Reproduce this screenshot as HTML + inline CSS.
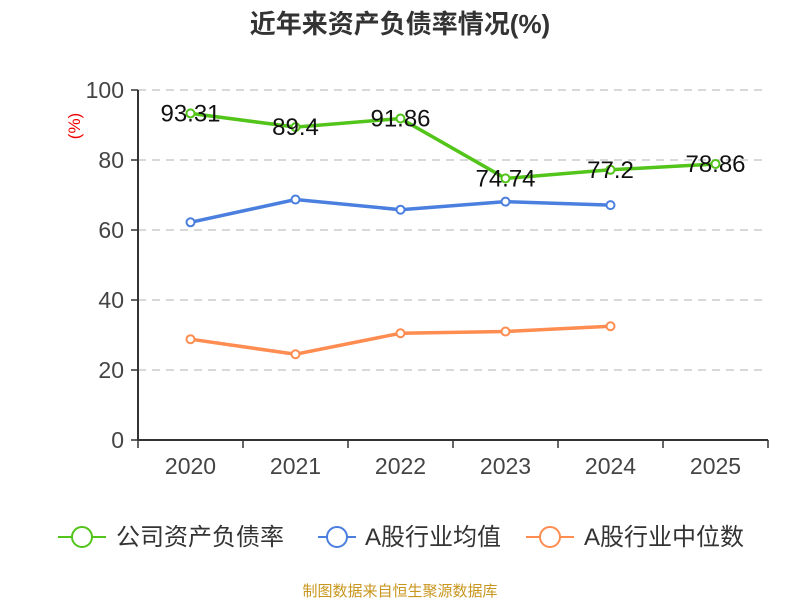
<!DOCTYPE html>
<html><head><meta charset="utf-8"><style>
body{margin:0;background:#fff;}
svg{display:block;font-family:"Liberation Sans","Noto Sans CJK SC",sans-serif;}
</style></head><body>
<svg id="c" width="800" height="600">
<text x="400" y="33" text-anchor="middle" font-size="26" font-weight="bold" fill="#333">近年来资产负债率情况(%)</text>
<text transform="translate(80,126) rotate(-90)" text-anchor="middle" font-size="17" fill="#e00">(%)</text>
<g id="grid"></g><g id="axes"></g><g id="series"></g>
<g>
<g><line x1="58" y1="537" x2="106" y2="537" stroke="#52c41a" stroke-width="2"/><circle cx="82" cy="537" r="10" fill="#fff" stroke="#52c41a" stroke-width="2"/><text x="116" y="545" font-size="24" fill="#333">公司资产负债率</text></g>
<g><line x1="318" y1="537" x2="356" y2="537" stroke="#4a7fe0" stroke-width="2"/><circle cx="337" cy="537" r="10" fill="#fff" stroke="#4a7fe0" stroke-width="2"/><text x="365" y="545" font-size="24" fill="#333">A股行业均值</text></g>
<g><line x1="526" y1="537" x2="574" y2="537" stroke="#ff8c50" stroke-width="2"/><circle cx="550" cy="537" r="10" fill="#fff" stroke="#ff8c50" stroke-width="2"/><text x="584" y="545" font-size="24" fill="#333">A股行业中位数</text></g>
</g>
<text x="400" y="596" text-anchor="middle" font-size="15" fill="#c8961e">制图数据来自恒生聚源数据库</text>
</svg>
<script>
const categories=["2020","2021","2022","2023","2024","2025"];
const companyVals=[93.31,89.4,91.86,74.74,77.2,78.86];
const companyLabels=["93.31","89.4","91.86","74.74","77.2","78.86"];
const avgVals=[62.2,68.7,65.8,68.1,67.1];
const medianVals=[28.8,24.5,30.5,31.0,32.5];
const yTicks=[0,20,40,60,80,100];
const L=138,R=768,T=90,B=440;
const bw=(R-L)/categories.length;
const xs=i=>L+bw*(i+0.5);
const ys=v=>B-(v/100)*(B-T);
const NS="http://www.w3.org/2000/svg";
function mk(p,tag,a){const e=document.createElementNS(NS,tag);for(const k in a)e.setAttribute(k,a[k]);p.appendChild(e);return e;}
const grid=document.getElementById('grid'),axes=document.getElementById('axes'),ser=document.getElementById('series');
yTicks.forEach(t=>{
 if(t>0){const g=mk(grid,'line',{x1:L,x2:R,y1:ys(t),y2:ys(t),stroke:'#ccc','stroke-dasharray':'8,6','stroke-width':1.5});
 
 }
 const tk=mk(axes,'line',{x1:L-7,x2:L,y1:ys(t),y2:ys(t),stroke:'#333','stroke-width':1.5});
 
 
 const tx=mk(axes,'text',{x:L-14,y:ys(t)+8,'text-anchor':'end','font-size':23,fill:'#444'});tx.textContent=t;
 
 
});
const ya=mk(axes,'line',{x1:L,x2:L,y1:T,y2:B,stroke:'#333','stroke-width':2});


const xa=mk(axes,'line',{x1:L,x2:R,y1:B,y2:B,stroke:'#333','stroke-width':2});


for(let i=0;i<=categories.length;i++){const t=mk(axes,'line',{x1:L+bw*i,x2:L+bw*i,y1:B,y2:B+8,stroke:'#333','stroke-width':1.5});
 
 }
categories.forEach((c,i)=>{const t=mk(axes,'text',{x:xs(i),y:B+34,'text-anchor':'middle','font-size':23,fill:'#444'});t.textContent=c;
 
 });
function series(vals,color,name){
 const p=mk(ser,'polyline',{points:vals.map((v,i)=>xs(i)+','+ys(v)).join(' '),fill:'none',stroke:color,'stroke-width':3.5});
 
 
 vals.forEach((v,i)=>{const c=mk(ser,'circle',{cx:xs(i),cy:ys(v),r:4,fill:'#fff',stroke:color,'stroke-width':2});
 
 });
}
series(medianVals,'#ff8c50','industry-median');
series(avgVals,'#4a7fe0','industry-avg');
series(companyVals,'#52c41a','company');
companyVals.forEach((v,i)=>{const t=mk(ser,'text',{x:xs(i),y:ys(v)+8,'text-anchor':'middle','font-size':24,fill:'#111'});t.textContent=companyLabels[i];
 
 });
</script>
</body></html>
